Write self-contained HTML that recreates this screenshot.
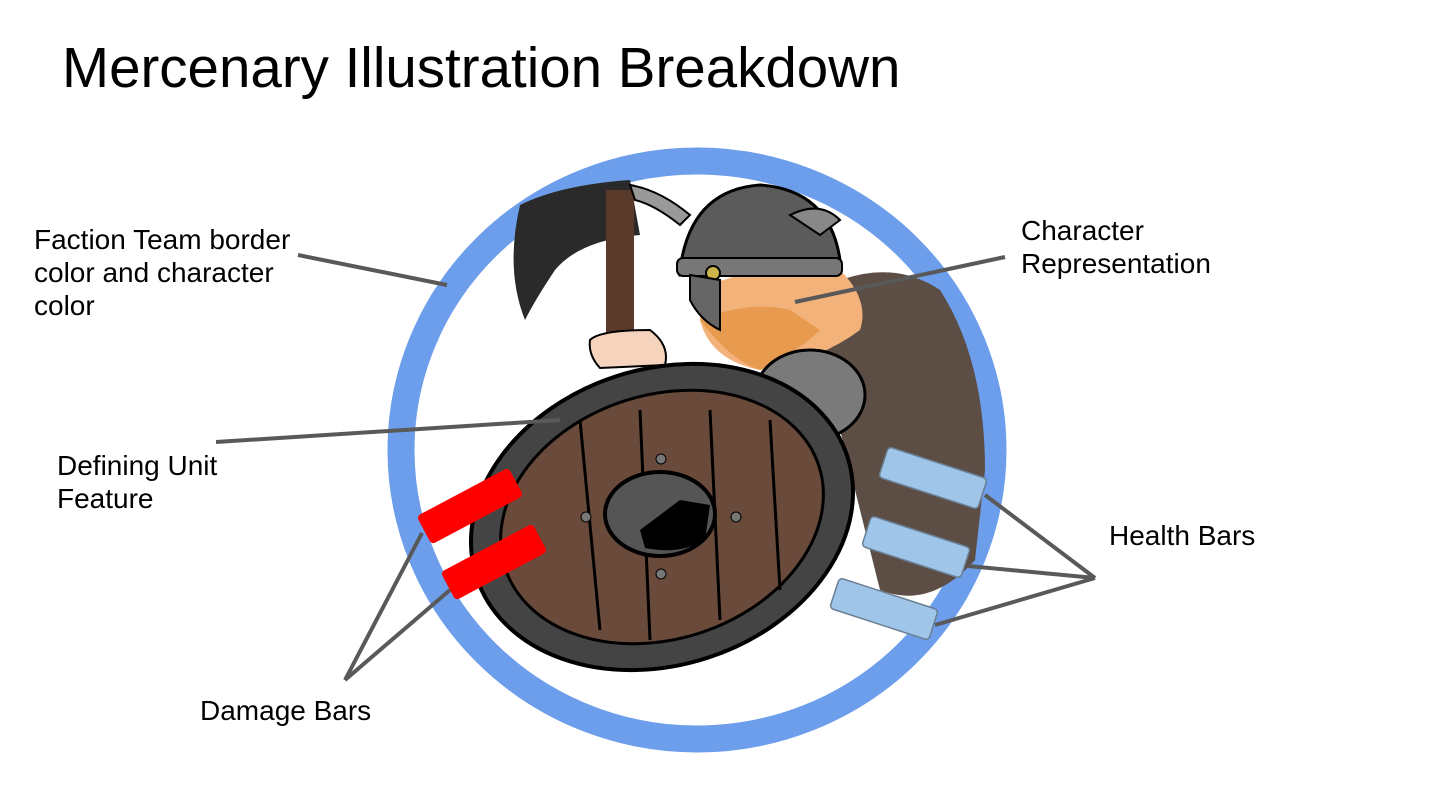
<!DOCTYPE html>
<html><head><style>
body{margin:0;width:1450px;height:802px;background:#fff;overflow:hidden;font-family:"Liberation Sans",Arial,sans-serif;}
.t{position:absolute;color:#000;font-size:28px;line-height:33px;}
</style></head><body>
<div style="position:absolute;left:62px;top:35px;font-size:56.5px;line-height:66px;">Mercenary Illustration Breakdown</div>
<svg width="1450" height="802" style="position:absolute;left:0;top:0">
<ellipse cx="697" cy="450" rx="296" ry="289" fill="#fff" stroke="#6d9eeb" stroke-width="27"/>
<path d="M800 300 Q880 250 940 290 Q985 360 985 470 L975 560 Q930 610 880 590 L840 430 Z" fill="#5c4e45"/>
<path d="M520 205 Q560 185 630 180 L640 235 Q580 240 555 270 Q535 300 525 320 Q505 270 520 205Z" fill="#2a2a2a"/>
<rect x="606" y="190" width="28" height="150" fill="#5a3a2a"/>
<path d="M630 185 Q660 190 690 215 L680 225 Q655 205 635 200Z" fill="#999" stroke="#000" stroke-width="2"/>
<path d="M700 290 Q760 260 840 270 Q870 300 860 330 Q820 360 760 370 Q710 360 700 320Z" fill="#f3b27a"/>
<path d="M700 320 Q730 360 760 370 Q800 350 820 330 L790 310 Q750 300 700 320Z" fill="#e89a4f"/>
<path d="M680 270 Q690 190 760 185 Q830 190 840 260 L680 275Z" fill="#5b5b5b" stroke="#000" stroke-width="3"/>
<rect x="677" y="258" width="165" height="18" rx="6" fill="#777" stroke="#000" stroke-width="2"/>
<circle cx="713" cy="273" r="7" fill="#c9b34a" stroke="#000" stroke-width="2"/>
<path d="M690 275 L720 280 L720 330 Q700 320 690 300Z" fill="#666" stroke="#000" stroke-width="2"/>
<path d="M790 215 Q820 200 840 220 L820 235Z" fill="#888" stroke="#000" stroke-width="2"/>
<path d="M590 340 Q600 330 650 330 Q670 345 665 365 L600 368 Q588 355 590 340Z" fill="#f6d3bd" stroke="#000" stroke-width="2"/>
<ellipse cx="810" cy="395" rx="55" ry="45" fill="#7a7a7a" stroke="#000" stroke-width="3"/>
<g transform="rotate(-18 662 517)">
<ellipse cx="662" cy="517" rx="195" ry="148" fill="#444" stroke="#000" stroke-width="4"/>
<ellipse cx="662" cy="517" rx="165" ry="122" fill="#6a4a3b" stroke="#000" stroke-width="3"/>
</g>
<line x1="580" y1="420" x2="600" y2="630" stroke="#000" stroke-width="3"/>
<line x1="640" y1="410" x2="650" y2="640" stroke="#000" stroke-width="3"/>
<line x1="710" y1="410" x2="720" y2="620" stroke="#000" stroke-width="3"/>
<line x1="770" y1="420" x2="780" y2="590" stroke="#000" stroke-width="3"/>
<ellipse cx="660" cy="514" rx="55" ry="42" fill="#555" stroke="#000" stroke-width="4"/>
<path d="M640 530 L680 500 L710 505 L705 540 Q680 555 645 548Z" fill="#000"/>
<circle cx="661" cy="459" r="5" fill="#777" stroke="#000"/>
<circle cx="661" cy="574" r="5" fill="#777" stroke="#000"/>
<circle cx="586" cy="517" r="5" fill="#777" stroke="#000"/>
<circle cx="736" cy="517" r="5" fill="#777" stroke="#000"/>
<rect x="-52" y="-16" width="104" height="32" rx="4" fill="#ff0000" transform="translate(470 506) rotate(-28)"/>
<rect x="-52" y="-16" width="104" height="32" rx="4" fill="#ff0000" transform="translate(494 562) rotate(-28)"/>
<g fill="#9fc5e8" stroke="#6a7f94" stroke-width="1.5">
<rect x="-52" y="-16" width="104" height="32" rx="4" transform="translate(933 478) rotate(18)"/>
<rect x="-52" y="-16" width="104" height="32" rx="4" transform="translate(916 547) rotate(18)"/>
<rect x="-52" y="-16" width="104" height="32" rx="4" transform="translate(884 609) rotate(18)"/>
</g>
<g stroke="#595959" stroke-width="4" fill="none">
<line x1="298" y1="255" x2="447" y2="285"/>
<line x1="1005" y1="257" x2="795" y2="302"/>
<line x1="216" y1="442" x2="560" y2="420"/>
<line x1="345" y1="680" x2="422" y2="533"/>
<line x1="345" y1="680" x2="450" y2="590"/>
<line x1="1095" y1="578" x2="985" y2="495"/>
<line x1="1095" y1="578" x2="968" y2="566"/>
<line x1="1095" y1="578" x2="935" y2="625"/>
</g>
</svg>
<div class="t" style="left:34px;top:223px;">Faction Team border<br>color and character<br>color</div>
<div class="t" style="left:1021px;top:214px;">Character<br>Representation</div>
<div class="t" style="left:57px;top:449px;">Defining Unit<br>Feature</div>
<div class="t" style="left:1109px;top:519px;">Health Bars</div>
<div class="t" style="left:200px;top:694px;">Damage Bars</div>
</body></html>
